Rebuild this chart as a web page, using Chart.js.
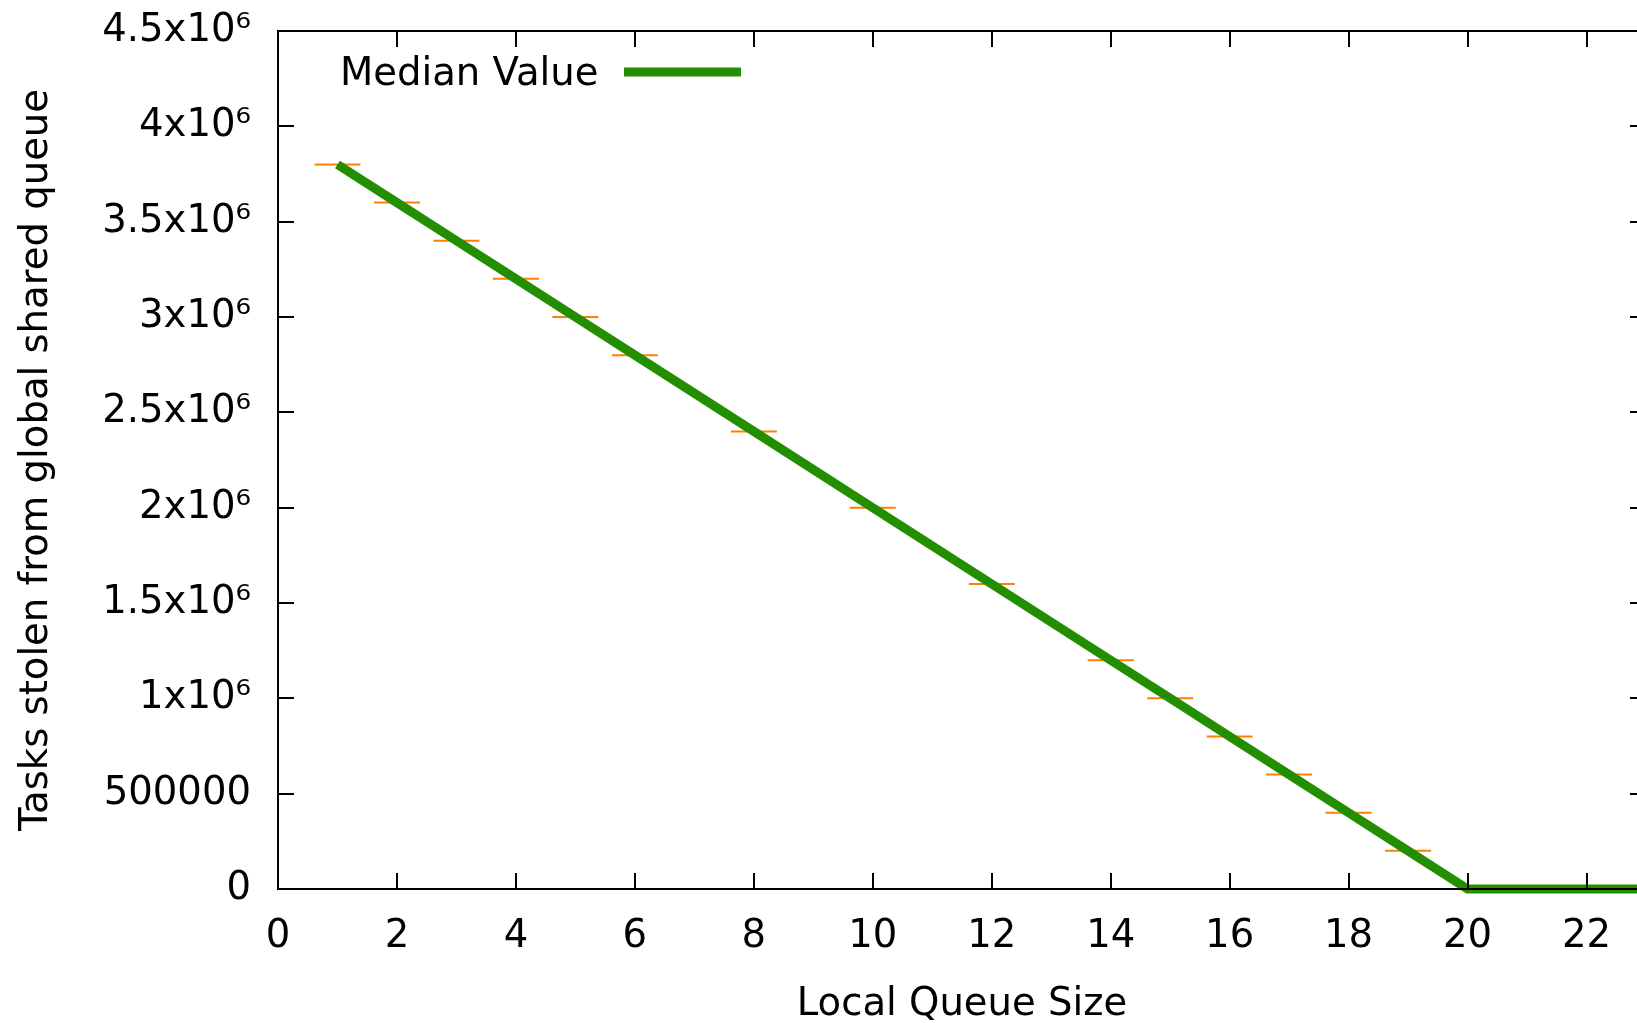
<!DOCTYPE html>
<html><head><meta charset="utf-8">
<script src="https://cdn.jsdelivr.net/npm/chart.js@4"></script>
<style>
html,body{margin:0;padding:0;overflow:hidden;background:#fff;width:1637px;height:1023px}
#wrap{position:absolute;left:0;top:0;width:1671px;height:1023px}
</style>
</head><body><div id="wrap"><canvas id="c"></canvas></div>
<script>
// ---- data ----
const queueSizes  = [1, 2, 3, 4, 5, 6, 8, 10, 12, 14, 15, 16, 17, 18, 19, 20, 21, 22, 23];
const medianTasks = [3800000, 3600000, 3400000, 3200000, 3000000, 2800000, 2400000, 2000000,
                     1600000, 1200000, 1000000, 800000, 600000, 400000, 200000, 0, 0, 0, 0];
const rangeSizes  = [1, 2, 3, 4, 5, 6, 8, 10, 12, 14, 15, 16, 17, 18, 19];
const rangeTasks  = [3800000, 3600000, 3400000, 3200000, 3000000, 2800000, 2400000, 2000000,
                     1600000, 1200000, 1000000, 800000, 600000, 400000, 200000];
const xTickValues = [0, 2, 4, 6, 8, 10, 12, 14, 16, 18, 20, 22];
const yTickValues = [0, 500000, 1000000, 1500000, 2000000, 2500000, 3000000, 3500000, 4000000, 4500000];
const yTickLabels = ['0', '500000', '1x10\u2076', '1.5x10\u2076', '2x10\u2076', '2.5x10\u2076',
                     '3x10\u2076', '3.5x10\u2076', '4x10\u2076', '4.5x10\u2076'];
const seriesLabel = 'Median Value';
const xTitle = 'Local Queue Size';
const yTitle = 'Tasks stolen from global shared queue';

const GREEN = '#228e00';
const ORANGE = '#ff8000';
const FONT = 'DejaVu Sans';
const FSIZE = 38.6;

Chart.defaults.font.family = FONT;
Chart.defaults.font.size = FSIZE;
Chart.defaults.color = '#000';

const frame = {
  id: 'frame',
  afterDatasetsDraw(chart) {
    const {ctx, chartArea: {left, right, top, bottom}, scales: {x, y}} = chart;
    const L = 16;
    ctx.save();
    ctx.strokeStyle = '#000';
    ctx.lineWidth = 2;
    ctx.beginPath();
    x.ticks.forEach(t => {
      const px = Math.round(x.getPixelForValue(t.value));
      ctx.moveTo(px, bottom); ctx.lineTo(px, bottom - L);
      ctx.moveTo(px, top); ctx.lineTo(px, top + L);
    });
    y.ticks.forEach(t => {
      const py = Math.round(y.getPixelForValue(t.value));
      ctx.moveTo(left, py); ctx.lineTo(left + L, py);
      ctx.moveTo(right, py); ctx.lineTo(right - L, py);
    });
    ctx.stroke();
    ctx.strokeRect(left, top, right - left, bottom - top);
    ctx.restore();
  },
  afterDraw(chart) {
    const ctx = chart.ctx;
    const ds = chart.data.datasets[0];
    const top = chart.chartArea.top;
    ctx.save();
    ctx.font = FSIZE + 'px "' + FONT + '"';
    ctx.fillStyle = '#000';
    ctx.textBaseline = 'middle';
    ctx.textAlign = 'left';
    ctx.fillText(ds.label, 340, top + 44);
    ctx.strokeStyle = ds.borderColor;
    ctx.lineWidth = ds.borderWidth;
    ctx.beginPath();
    ctx.moveTo(624, top + 41); ctx.lineTo(741, top + 41);
    ctx.stroke();
    ctx.restore();
  }
};

new Chart(document.getElementById('c'), {
  type: 'line',
  data: {
    datasets: [
      {
        label: seriesLabel,
        data: queueSizes.map((q, i) => ({x: q, y: medianTasks[i]})),
        borderColor: GREEN,
        backgroundColor: GREEN,
        borderWidth: 9,
        borderJoinStyle: 'miter',
        pointRadius: 0,
        fill: false,
        tension: 0,
        order: 0,
        clip: {left: 6, top: 6, right: 0, bottom: 6}
      },
      {
        label: 'range',
        data: rangeSizes.map((q, i) => ({x: q, y: rangeTasks[i]})),
        showLine: false,
        pointStyle: 'line',
        pointRadius: 23,
        pointHoverRadius: 23,
        pointBorderWidth: 2,
        pointBorderColor: ORANGE,
        borderColor: ORANGE,
        order: 1,
        clip: false
      }
    ]
  },
  options: {
    responsive: true,
    maintainAspectRatio: false,
    animation: false,
    layout: {padding: {left: 0, top: 31, right: 14, bottom: 0}},
    plugins: {legend: {display: false}, tooltip: {enabled: false}},
    events: [],
    scales: {
      x: {
        type: 'linear',
        min: 0, max: 23,
        grid: {display: false, drawTicks: false},
        border: {display: false},
        afterBuildTicks: s => { s.ticks = xTickValues.map(v => ({value: v})); },
        ticks: {padding: 25, maxRotation: 0, autoSkip: false, callback: v => String(v)},
        title: {display: true, text: xTitle, padding: {top: 0, bottom: -5}},
        afterFit: s => { s.height = 134; s.paddingLeft = 0; s.paddingRight = 0; }
      },
      y: {
        type: 'linear',
        min: 0, max: 4500000,
        grid: {display: false, drawTicks: false},
        border: {display: false},
        afterBuildTicks: s => { s.ticks = yTickValues.map(v => ({value: v})); },
        ticks: {padding: 27, autoSkip: false,
          callback: v => { const i = yTickValues.indexOf(v); return i >= 0 ? yTickLabels[i] : ''; }},
        title: {display: true, text: yTitle, padding: {top: 14, bottom: 0}},
        afterFit: s => { s.width = 278; s.paddingTop = 0; s.paddingBottom = 0; }
      }
    }
  },
  plugins: [frame]
});
</script>
</body></html>
